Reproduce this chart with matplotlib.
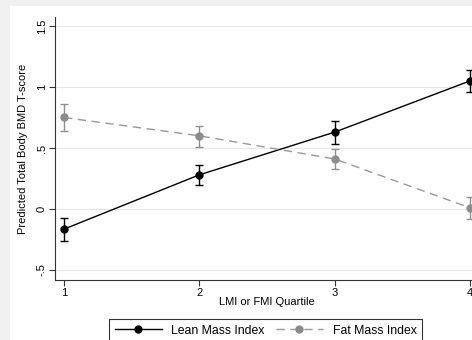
import matplotlib
matplotlib.use("Agg")
import matplotlib.pyplot as plt
from matplotlib.patches import Rectangle

plt.rcParams['font.family'] = ['Liberation Sans', 'DejaVu Sans']

# quartiles and predicted T-scores
quartiles = [1, 2, 3, 4]
lmi_mean = [-0.165, 0.28, 0.63, 1.05]
lmi_lo = [-0.26, 0.20, 0.53, 0.96]
lmi_hi = [-0.07, 0.36, 0.72, 1.14]
fmi_mean = [0.75, 0.60, 0.41, 0.01]
fmi_lo = [0.64, 0.51, 0.33, -0.08]
fmi_hi = [0.86, 0.68, 0.49, 0.10]

y_ticks = [-0.5, 0, 0.5, 1, 1.5]
y_tick_labels = ["-.5", "0", ".5", "1", "1.5"]

W, H = 472, 340
fig = plt.figure(figsize=(W / 100, H / 100), dpi=100)
fig.patch.set_facecolor("#f1f1f1")
# white panel (the gray border only shows on the left and top)
fig.patches.append(Rectangle((10 / W, 0), 1, 1 - 6 / H, transform=fig.transFigure,
                             facecolor="white", edgecolor="none", zorder=-5))

# axes: y-axis at x=55px, x-axis at y=280px, top at y=17px, runs off the right edge
ax = fig.add_axes([55 / W, 1 - 280 / H, 1 - 55 / W, (280 - 17) / H], zorder=2)
ax.set_facecolor("none")
ax.set_xlim(1 - 9 / 135.33, 1 + 408 / 135.33)
ax.set_ylim(-0.5 - 10 / 122, 1.5 + 9 / 122)

for y in y_ticks:
    ax.axhline(y, color="#e8e8e8", lw=0.8, zorder=1)

def yerr(mean, lo, hi):
    return [[m - l for m, l in zip(mean, lo)], [h - m for m, h in zip(mean, hi)]]

ax.errorbar(quartiles, lmi_mean, yerr=yerr(lmi_mean, lmi_lo, lmi_hi), fmt="none",
            ecolor="black", elinewidth=1.0, capsize=3, capthick=1.0, zorder=3)
ax.errorbar(quartiles, fmi_mean, yerr=yerr(fmi_mean, fmi_lo, fmi_hi), fmt="none",
            ecolor="#8f8f8f", elinewidth=1.0, capsize=3, capthick=1.0, zorder=3)
ax.plot(quartiles, lmi_mean, color="black", lw=1.0, marker="o", ms=5,
        label="Lean Mass Index", zorder=4)
ax.plot(quartiles, fmi_mean, color="#999999", lw=1.0, ls=(0, (6, 4)), marker="o",
        ms=5, mfc="#8c8c8c", mec="#8c8c8c", label="Fat Mass Index", zorder=4)

ax.spines["top"].set_visible(False)
ax.spines["right"].set_visible(False)
for s in ("left", "bottom"):
    ax.spines[s].set_color("#333333")
    ax.spines[s].set_linewidth(0.8)

ax.set_xticks(quartiles)
ax.set_xticklabels([str(q) for q in quartiles], fontsize=8)
ax.set_yticks(y_ticks)
ax.set_yticklabels(y_tick_labels, fontsize=8, rotation=90, va="center")
ax.tick_params(length=4, width=0.8, color="#333333", pad=2)

ax.set_xlabel("LMI or FMI Quartile", fontsize=8)
ax.xaxis.set_label_coords((2.5 - ax.get_xlim()[0]) / (ax.get_xlim()[1] - ax.get_xlim()[0]), -0.065)
ax.set_ylabel("Predicted Total Body BMD T-score", fontsize=8, labelpad=6)

leg = fig.legend(loc="upper left", bbox_to_anchor=(109 / W, 1 - 319 / H), ncol=2,
                 fontsize=8.8, frameon=True, fancybox=False, edgecolor="black",
                 handlelength=3.85, columnspacing=0.9, borderpad=0.45, handletextpad=0.8,
                 borderaxespad=0)
leg.get_frame().set_linewidth(0.8)

fig.savefig("out.png", dpi=100, facecolor=fig.get_facecolor())
